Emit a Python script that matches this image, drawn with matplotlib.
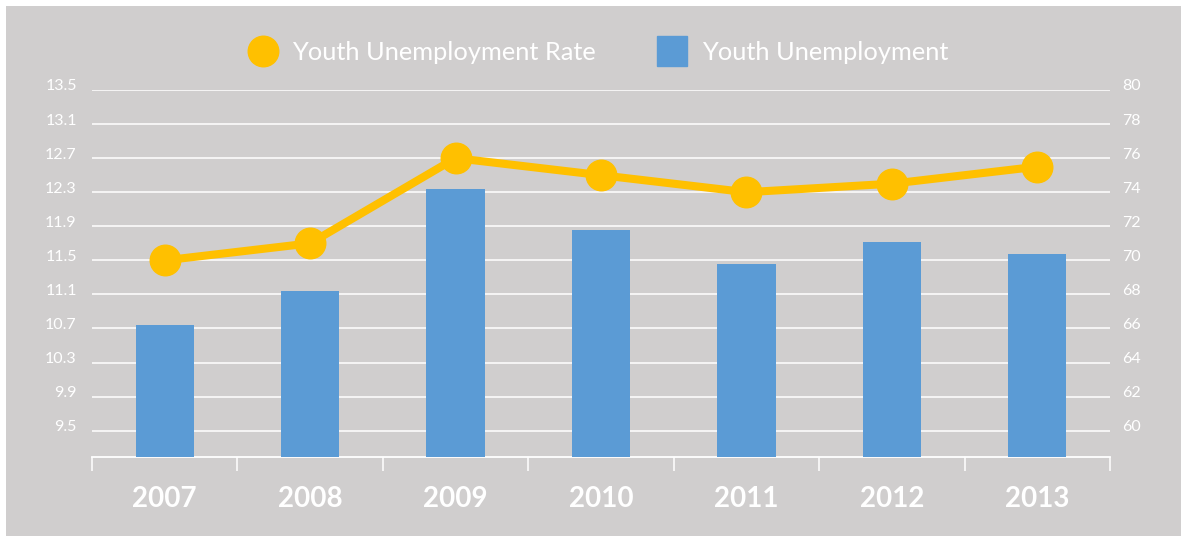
import numpy as np
import matplotlib.pyplot as plt
import matplotlib.transforms as mtransforms
from matplotlib.lines import Line2D
from matplotlib.patches import Rectangle

# data
years = ["2007", "2008", "2009", "2010", "2011", "2012", "2013"]
youth_unemployment = [66.2, 68.2, 74.2, 71.8, 69.8, 71.1, 70.4]
youth_rate = [11.5, 11.7, 12.7, 12.5, 12.3, 12.4, 12.6]

left_ticks = np.round(np.arange(9.5, 13.51, 0.4), 1)
right_ticks = np.arange(60, 81, 2)

bg = "#D0CECE"
blue = "#5B9BD5"
gold = "#FFC000"
white = "white"

plt.rcParams['font.family'] = ['Lato', 'DejaVu Sans']

fig = plt.figure(figsize=(11.81, 5.36), dpi=100, facecolor="white")
# grey chart area with thin white margin top/left
fig.add_artist(Rectangle((6 / 1181, 0), 1, 1 - 6 / 536, transform=fig.transFigure,
                         facecolor=bg, edgecolor="none", zorder=-10))

ax = fig.add_axes([92 / 1181, 1 - 456.7 / 536, (1110 - 92) / 1181, (456.7 - 90) / 536])
ax.patch.set_visible(False)
x = np.arange(len(years))

# bars -> right hand scale
ax.bar(x, youth_unemployment, width=0.4, color=blue, zorder=3)
ax.set_ylim(58.47, 80)
ax.set_yticks(right_ticks)
ax.set_yticklabels([str(v) for v in right_ticks])
ax.grid(axis="y", color=white, linewidth=1.1, zorder=0)
ax.set_axisbelow(True)

ax.set_xlim(-0.5, len(years) - 0.5)
ax.set_xticks(x)
ax.set_xticklabels(years, fontsize=20, fontweight="bold", color=white)
ax.tick_params(axis="x", which="major", length=0, pad=21)
ax.set_xticks(np.arange(-0.5, len(years)), minor=True)
ax.tick_params(axis="x", which="minor", length=10, width=1.1, color=white, direction="out")

for s in ["top", "left", "right"]:
    ax.spines[s].set_visible(False)
ax.spines["bottom"].set_color(white)
ax.spines["bottom"].set_linewidth(1.3)

# line -> left hand scale
ax2 = ax.twinx()
ax2.plot(x, youth_rate, color=gold, linewidth=5.8, marker="o", markersize=22,
         solid_capstyle="round", zorder=4)
ax2.set_ylim(9.195, 13.5)
ax2.set_yticks(left_ticks)
ax2.set_yticklabels([f"{v:.1f}" for v in left_ticks])
for s in ax2.spines.values():
    s.set_visible(False)

# swap sides: twinx puts the first axis on the left
ax.yaxis.tick_right()
ax2.yaxis.tick_left()
ax.tick_params(axis="y", length=0, pad=8.5, labelsize=11.5, labelcolor=white)
ax2.tick_params(axis="y", length=0, pad=11, labelsize=11.5, labelcolor=white)

# labels sit a little above their gridlines, as in the original
up = mtransforms.ScaledTranslation(0, 5 / 100, fig.dpi_scale_trans)
for lab in ax.get_yticklabels() + ax2.get_yticklabels():
    lab.set_transform(lab.get_transform() + up)

handles = [
    Line2D([], [], linestyle="none", marker="o", markersize=22, color=gold),
    Line2D([], [], linestyle="none", marker="s", markersize=22, color=blue),
]
fig.legend(handles, ["Youth Unemployment Rate", "Youth Unemployment"],
           loc="center", bbox_to_anchor=(598 / 1181, 1 - 52 / 536), ncol=2,
           frameon=False, fontsize=18.3, labelcolor=white, handletextpad=0.55,
           columnspacing=2.4, handlelength=1.2)

fig.savefig("out.png", dpi=100, facecolor=fig.get_facecolor())
